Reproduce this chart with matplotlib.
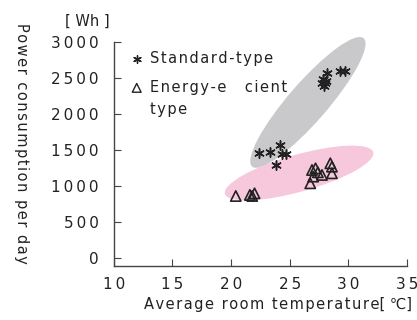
import numpy as np
import matplotlib.pyplot as plt
from matplotlib.patches import Ellipse
from matplotlib import transforms

plt.rcParams['font.family'] = ['DejaVu Sans']

# standard-type units (temperature, Wh/day)
std_temp = [27.75, 27.84, 27.95, 28.03, 28.18, 28.1, 29.3, 29.7,
            22.4, 23.3, 24.2, 24.3, 24.7, 23.85]
std_power = [2426, 2482, 2389, 2426, 2565, 2460, 2590, 2600,
             1454, 1477, 1569, 1444, 1444, 1292]

# energy-efficient units
eff_temp = [20.4, 21.6, 22.0, 21.8, 26.75, 27.0, 26.9, 27.2,
            27.75, 28.46, 28.6, 28.6, 27.4]
eff_power = [861, 875, 898, 861, 1037, 1130, 1222, 1245,
             1153, 1315, 1268, 1176, 1190]

xticks = [10, 15, 20, 25, 30, 35]
yticks = [0, 500, 1000, 1500, 2000, 2500, 3000]

def sp(s, gap='\u2009'):
    return gap.join(s)

def hs(s):
    return '\u200a'.join(s)

fig = plt.figure(figsize=(4.17, 3.20), dpi=100)
ax = fig.add_axes([0.273, 0.169, 0.703, 0.700])
ax.set_xlim(10, 35)
ax.set_ylim(-110, 3000)

# shaded groups (drawn in inches around a data centre)
def blob(cx, cy, w, h, ang, col):
    tr = fig.dpi_scale_trans + transforms.ScaledTranslation(cx, cy, ax.transData)
    ax.add_patch(Ellipse((0, 0), w, h, angle=ang, transform=tr, clip_on=False,
                         facecolor=col, edgecolor='none', zorder=1))

blob(26.55, 2160, 1.70, 0.39, 49, '#c9c9cb')
blob(25.8, 1180, 1.54, 0.37, 15.7, '#f7c8dc')

ax.scatter(std_temp, std_power, marker=(6, 2, 0), s=45, color='#222222',
           linewidths=1.1, zorder=3)
ax.scatter(eff_temp, eff_power, marker='^', s=55, facecolors='none',
           edgecolors='#222222', linewidths=1.2, zorder=3)

for s in ['top', 'right']:
    ax.spines[s].set_visible(False)
for s in ['left', 'bottom']:
    ax.spines[s].set_color('#444444')
    ax.spines[s].set_linewidth(1.0)
ax.spines['left'].set_bounds(-110, 3000)

ax.set_xticks(xticks)
ax.set_xticklabels([sp(str(t)) for t in xticks])
ax.set_yticks(yticks)
ax.set_yticklabels([sp(str(t)) for t in yticks])
ax.tick_params(direction='in', length=5, width=0.8, color='#444444',
               labelsize=11, labelcolor='#222222')
ax.tick_params(axis='y', pad=11)
ax.tick_params(axis='x', pad=8)

# legend drawn by hand
ax.scatter([0.078], [0.924], marker=(6, 2, 0), s=30, color='#222222',
           linewidths=1.0, transform=ax.transAxes, clip_on=False)
ax.scatter([0.078], [0.795], marker='^', s=40, facecolors='none',
           edgecolors='#222222', linewidths=1.0, transform=ax.transAxes, clip_on=False)
ax.text(0.123, 0.924, hs('Standard-type'), transform=ax.transAxes,
        fontsize=10.5, color='#222222', va='center')
ax.text(0.123, 0.795, hs('Energy-e') + '    ' + hs('cient'), transform=ax.transAxes,
        fontsize=10.5, color='#222222', va='center')
ax.text(0.123, 0.70, hs('type'), transform=ax.transAxes,
        fontsize=10.5, color='#222222', va='center')

fig.text(87 / 417, 1 - 21 / 320, '[ Wh ]', fontsize=10.5, color='#222222',
         ha='center', va='center')
fig.text(21 / 417, 1 - 143 / 320, hs('Power consumption per day'), rotation=270,
         fontsize=10.5, color='#222222', ha='center', va='center')
fig.text(144 / 417, 1 - 305 / 320, hs('Average room temperature') + '[ ℃]',
         fontsize=10.5, color='#222222', ha='left', va='center')

fig.savefig('out.png', dpi=100)
